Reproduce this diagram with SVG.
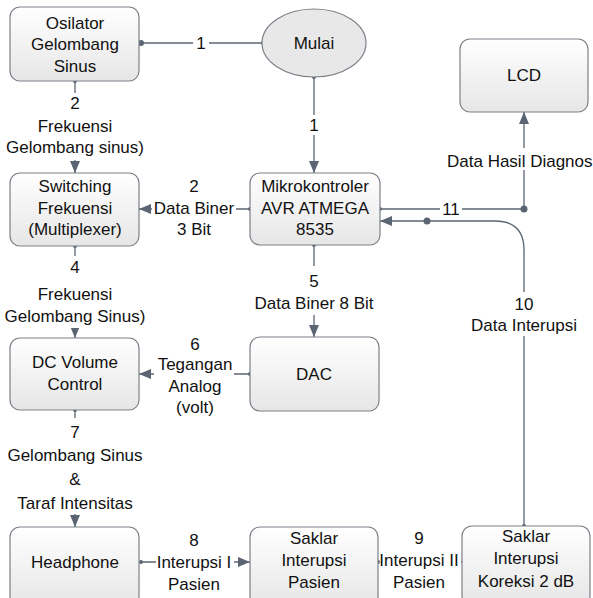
<svg xmlns="http://www.w3.org/2000/svg" width="593" height="598" viewBox="0 0 593 598">
<defs>
<linearGradient id="g" x1="0" y1="0" x2="0" y2="1">
<stop offset="0" stop-color="#ffffff"/>
<stop offset="1" stop-color="#e6e6e6"/>
</linearGradient>
<marker id="ar" viewBox="0 0 12 10" refX="12" refY="5" markerWidth="12" markerHeight="10" markerUnits="userSpaceOnUse" orient="auto">
<path d="M0,0 L12,5 L0,10 Z" fill="#5b6472"/>
</marker>
</defs>
<style>
.box{fill:url(#g);stroke:#7b8089;stroke-width:1.2}
.t{font-family:"Liberation Sans",Arial,sans-serif;font-size:17px;fill:#111;text-anchor:middle}
.c{fill:none;stroke:#5b6472;stroke-width:1.3}
.d{fill:#5b6472}
.bg{fill:#fff}
</style>
<rect width="593" height="598" fill="#fff"/>
<g id="connectors">
<path class="c" d="M141 43 L263 43"/>
<rect class="bg" x="193" y="33" width="16" height="20"/>
<text class="t" x="201" y="49">1</text>
<circle class="d" cx="141" cy="43" r="3"/>
<circle class="d" cx="263" cy="43" r="2"/>

<path class="c" d="M314 77 L314 173" marker-end="url(#ar)"/>
<rect class="bg" x="306" y="115" width="16" height="20"/>
<text class="t" x="314" y="131">1</text>
<circle class="d" cx="314" cy="77" r="2"/>

<path class="c" d="M75 81 L75 173" marker-end="url(#ar)"/>
<rect class="bg" x="0" y="93" width="160" height="67"/>
<circle class="d" cx="75" cy="81" r="2"/>
<text class="t" x="75" y="109">2</text>
<text class="t" x="75" y="132">Frekuensi</text>
<text class="t" x="75" y="153">Gelombang sinus)</text>

<path class="c" d="M250 209 L139 209" marker-end="url(#ar)"/>
<rect class="bg" x="152" y="176" width="84" height="64"/>
<circle class="d" cx="250" cy="209" r="2"/>
<text class="t" x="194" y="192">2</text>
<text class="t" x="194" y="214">Data Biner</text>
<text class="t" x="194" y="235">3 Bit</text>

<path class="c" d="M75 246 L75 338" marker-end="url(#ar)"/>
<rect class="bg" x="0" y="256" width="160" height="72"/>
<circle class="d" cx="75" cy="246" r="2"/>
<text class="t" x="75" y="273">4</text>
<text class="t" x="75" y="300">Frekuensi</text>
<text class="t" x="75" y="322">Gelombang Sinus)</text>

<path class="c" d="M314 245 L314 337" marker-end="url(#ar)"/>
<rect class="bg" x="248" y="266" width="134" height="49"/>
<circle class="d" cx="314" cy="245" r="2"/>
<text class="t" x="314" y="287">5</text>
<text class="t" x="314" y="309">Data Biner 8 Bit</text>

<path class="c" d="M250 374 L139 374" marker-end="url(#ar)"/>
<rect class="bg" x="154" y="334" width="80" height="84"/>
<circle class="d" cx="250" cy="374" r="2"/>
<text class="t" x="195" y="350">6</text>
<text class="t" x="195" y="370">Tegangan</text>
<text class="t" x="195" y="392">Analog</text>
<text class="t" x="195" y="413">(volt)</text>

<path class="c" d="M75 410 L75 527" marker-end="url(#ar)"/>
<rect class="bg" x="0" y="418" width="160" height="96"/>
<circle class="d" cx="75" cy="410" r="2"/>
<text class="t" x="75" y="438">7</text>
<text class="t" x="75" y="461">Gelombang Sinus</text>
<text class="t" x="75" y="485">&amp;</text>
<text class="t" x="75" y="509">Taraf Intensitas</text>

<path class="c" d="M141 562 L250 562" marker-end="url(#ar)"/>
<rect class="bg" x="154" y="530" width="84" height="12"/>
<rect class="bg" x="154" y="571" width="84" height="27"/>
<rect class="bg" x="156" y="550" width="78" height="21"/>
<circle class="d" cx="141" cy="562" r="2"/>
<text class="t" x="194" y="546">8</text>
<text class="t" x="194" y="568">Interupsi I</text>
<text class="t" x="194" y="590">Pasien</text>

<path class="c" d="M462 562 L378 562"/>
<rect class="bg" x="379" y="528" width="82" height="70"/>
<circle class="d" cx="378" cy="562" r="2"/>
<text class="t" x="419" y="544">9</text>
<text class="t" x="419" y="566">Interupsi II</text>
<text class="t" x="419" y="588">Pasien</text>

<path class="c" d="M524 209 L524 112" marker-end="url(#ar)"/>
<rect class="bg" x="444" y="148" width="149" height="22"/>
<text class="t" x="447" y="167" style="text-anchor:start">Data Hasil Diagnos</text>
<path class="c" d="M524 209 L380 209"/>
<rect class="bg" x="440" y="200" width="22" height="18"/>
<text class="t" x="451" y="215">11</text>
<circle class="d" cx="524" cy="209" r="3.5"/>
<circle class="d" cx="380" cy="209" r="2"/>

<path class="c" d="M524 526 L524 250 Q524 221 495 221 L380 221" marker-end="url(#ar)"/>
<rect class="bg" x="465" y="292" width="120" height="44"/>
<circle class="d" cx="427" cy="221" r="3.5"/>
<circle class="d" cx="524" cy="526" r="2"/>
<text class="t" x="524" y="310">10</text>
<text class="t" x="524" y="331">Data Interupsi</text>
</g>

<g id="osilator">
<rect class="box" x="10" y="7" width="129" height="74" rx="10"/>
<text class="t" x="75" y="29">Osilator</text>
<text class="t" x="75" y="50">Gelombang</text>
<text class="t" x="75" y="72">Sinus</text>
</g>
<g id="mulai">
<ellipse cx="314" cy="43" rx="52" ry="34" fill="#e8e8e8" stroke="#7b8089" stroke-width="1.2"/>
<text class="t" x="314" y="49">Mulai</text>
</g>
<g id="lcd">
<rect class="box" x="460" y="39" width="128" height="73" rx="10"/>
<text class="t" x="524" y="81">LCD</text>
</g>
<g id="switching">
<rect class="box" x="10" y="173" width="129" height="73" rx="10"/>
<text class="t" x="75" y="192">Switching</text>
<text class="t" x="75" y="214">Frekuensi</text>
<text class="t" x="75" y="235">(Multiplexer)</text>
</g>
<g id="mikrokontroler">
<rect class="box" x="250" y="173" width="130" height="72" rx="10"/>
<text class="t" x="315" y="192">Mikrokontroler</text>
<text class="t" x="315" y="214">AVR ATMEGA</text>
<text class="t" x="315" y="235">8535</text>
</g>
<g id="dc-volume">
<rect class="box" x="10" y="338" width="129" height="72" rx="10"/>
<text class="t" x="75" y="368">DC Volume</text>
<text class="t" x="75" y="390">Control</text>
</g>
<g id="dac">
<rect class="box" x="250" y="337" width="129" height="74" rx="10"/>
<text class="t" x="314" y="380">DAC</text>
</g>
<g id="headphone">
<rect class="box" x="10" y="527" width="129" height="80" rx="10"/>
<text class="t" x="75" y="568">Headphone</text>
</g>
<g id="saklar-pasien">
<rect class="box" x="250" y="527" width="128" height="80" rx="10"/>
<text class="t" x="314" y="544">Saklar</text>
<text class="t" x="314" y="566">Interupsi</text>
<text class="t" x="314" y="588">Pasien</text>
</g>
<g id="saklar-koreksi">
<rect class="box" x="462" y="526" width="128" height="80" rx="10"/>
<text class="t" x="526" y="542">Saklar</text>
<text class="t" x="526" y="564">Interupsi</text>
<text class="t" x="526" y="587">Koreksi 2 dB</text>
</g>
</svg>
